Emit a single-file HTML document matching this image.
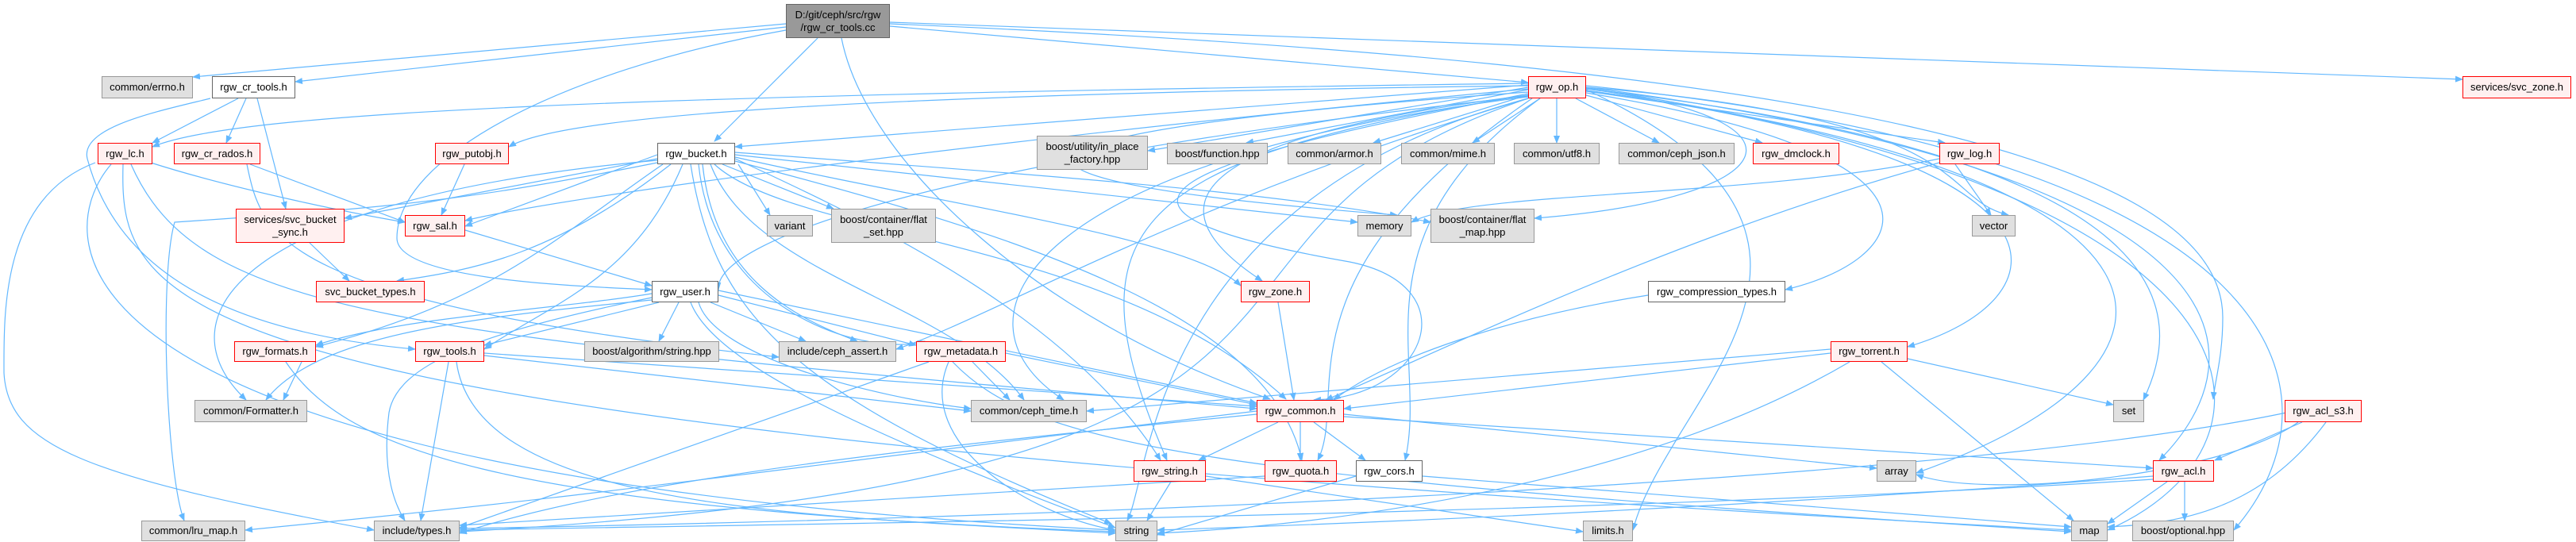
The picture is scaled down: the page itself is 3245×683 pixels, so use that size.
<!DOCTYPE html>
<html><head><meta charset="utf-8"><style>
body{margin:0;width:3245px;height:683px;background:#fff;position:relative;overflow:hidden;font-family:"Liberation Sans",sans-serif}
.n{position:absolute;box-sizing:border-box;font-size:13px;color:#000;display:flex;align-items:center;justify-content:center;text-align:center;line-height:16px;white-space:nowrap}
.g{background:#e0e0e0;border:1px solid #999}
.r{background:#fff0f0;border:1px solid #f00}
.w{background:#fff;border:1px solid #666}
.t{background:#999;border:1px solid #666}
svg{position:absolute;left:0;top:0}
</style></head><body>
<svg width="3245" height="683" viewBox="0 0 3245 683">
<defs><marker id="a" markerWidth="10" markerHeight="8" refX="9" refY="4" orient="auto" markerUnits="userSpaceOnUse"><path d="M0,0 L10,4 L0,8 z" fill="#63b8ff"/></marker></defs>
<g fill="none" stroke="#63b8ff" stroke-width="1.2" marker-end="url(#a)">
<path d="M990,30 L243,97"/>
<path d="M990,34 L372,103"/>
<path d="M1030,48 L900,178"/>
<path d="M1121,33 L1925,104"/>
<path d="M1121,28 L3102,100"/>
<path d="M990,38 C700,90 500,200 500,300 C500,350 700,360 821,365"/>
<path d="M1060,48 C1090,200 1300,400 1600,503"/>
<path d="M1121,30 C2300,80 2800,200 2800,400 C2800,450 2790,480 2788,503"/>
<path d="M300,124 L192,180"/>
<path d="M310,124 L285,180"/>
<path d="M324,124 L360,263"/>
<path d="M265,124 C200,140 100,160 110,200 C150,350 300,420 523,440"/>
<path d="M190,205 C300,240 450,270 510,280"/>
<path d="M120,205 C0,250 5,400 5,470 C10,560 100,600 471,668"/>
<path d="M140,207 C60,300 40,600 1405,668"/>
<path d="M155,207 C150,400 200,540 2609,668"/>
<path d="M165,207 C250,400 500,420 1583,515"/>
<path d="M311,207 C330,300 350,380 981,450"/>
<path d="M315,207 L510,280"/>
<path d="M585,207 L556,271"/>
<path d="M828,195 L586,285"/>
<path d="M828,200 L434,275"/>
<path d="M845,207 C700,320 600,340 500,354"/>
<path d="M930,207 L970,271"/>
<path d="M910,207 L1050,263"/>
<path d="M835,207 C700,300 620,380 398,437"/>
<path d="M860,207 C800,350 700,380 610,440"/>
<path d="M828,205 C600,250 520,260 220,280 C200,350 210,600 232,656"/>
<path d="M828,202 C300,250 200,400 310,504"/>
<path d="M880,207 C900,400 1100,450 1165,430"/>
<path d="M885,207 C900,350 1000,400 1080,430"/>
<path d="M895,207 C950,350 1200,380 1290,504"/>
<path d="M900,207 C1000,300 1400,300 1620,503"/>
<path d="M926,195 L1710,280"/>
<path d="M926,192 C1300,220 1600,240 1802,280"/>
<path d="M870,207 C900,400 1000,500 1400,660"/>
<path d="M926,200 C1100,280 1350,400 1462,580"/>
<path d="M926,198 C1200,260 1500,300 1563,360"/>
<path d="M926,203 C1300,300 1600,400 1640,580"/>
<path d="M586,290 L821,360"/>
<path d="M390,306 L440,354"/>
<path d="M821,370 C700,390 500,400 398,435"/>
<path d="M830,381 L610,435"/>
<path d="M855,381 L830,430"/>
<path d="M895,381 L1015,430"/>
<path d="M905,372 L1154,435"/>
<path d="M905,366 L1583,508"/>
<path d="M821,378 C600,400 400,420 335,504"/>
<path d="M821,375 C600,420 500,460 490,520 C480,600 500,640 510,656"/>
<path d="M870,381 C900,460 1100,550 1405,665"/>
<path d="M880,381 C900,450 1100,500 1223,515"/>
<path d="M380,456 L357,504"/>
<path d="M360,456 C430,560 600,640 1405,670"/>
<path d="M565,456 L530,656"/>
<path d="M575,456 C600,640 1000,650 1405,672"/>
<path d="M610,445 L1583,512"/>
<path d="M610,448 L1223,518"/>
<path d="M1225,456 L1272,504"/>
<path d="M1267,445 L1583,510"/>
<path d="M1195,456 C1150,560 1300,650 1405,668"/>
<path d="M1170,456 L579,665"/>
<path d="M1200,456 C1300,560 1500,600 2609,670"/>
<path d="M1925,110 L1446,190"/>
<path d="M1925,113 L1570,180"/>
<path d="M1930,118 L1730,180"/>
<path d="M1940,124 L1855,180"/>
<path d="M1961,124 L1961,180"/>
<path d="M1985,124 L2090,180"/>
<path d="M1998,120 L2220,180"/>
<path d="M1998,115 L2450,180"/>
<path d="M1925,107 L926,185"/>
<path d="M1925,108 C1000,120 700,150 641,185"/>
<path d="M1925,105 C800,120 300,140 192,185"/>
<path d="M1925,112 C1200,180 700,250 586,278"/>
<path d="M1925,116 C1300,160 1100,220 1760,271"/>
<path d="M1998,112 C2300,150 2250,250 1933,275"/>
<path d="M1998,110 C2500,150 2440,250 2530,271"/>
<path d="M1925,120 C1600,160 1400,230 1590,354"/>
<path d="M1998,117 C2500,200 2400,330 2249,365"/>
<path d="M1998,114 C2650,200 2600,380 2403,437"/>
<path d="M1998,112 C2770,200 2750,400 2700,504"/>
<path d="M1998,114 C2800,220 2800,460 2414,596"/>
<path d="M1998,110 C2850,220 2850,450 2720,580"/>
<path d="M1998,108 C2900,200 2960,500 2814,668"/>
<path d="M1998,111 C2880,240 2900,560 2655,668"/>
<path d="M1925,118 C1500,200 1300,260 1700,330 C1850,360 1800,500 1655,504"/>
<path d="M1925,122 C1300,200 1180,400 1340,504"/>
<path d="M1925,124 C1450,250 1450,600 1420,656"/>
<path d="M1925,120 C1400,200 1350,300 1470,580"/>
<path d="M1930,124 C1600,350 1700,500 1660,580"/>
<path d="M1940,124 C1700,300 1800,450 1770,580"/>
<path d="M1925,124 C1500,250 1250,400 1129,440"/>
<path d="M1925,121 C1200,200 900,300 905,365"/>
<path d="M1998,113 C2400,300 2100,500 2057,668"/>
<path d="M1925,124 C1400,300 1850,600 579,670"/>
<path d="M2463,207 L2508,271"/>
<path d="M2443,200 C2200,250 1850,240 1778,280"/>
<path d="M2443,205 C2100,300 1800,450 1670,504"/>
<path d="M1610,381 L1630,504"/>
<path d="M2076,372 C1900,400 1750,450 1680,504"/>
<path d="M2306,445 L1693,515"/>
<path d="M2306,440 L1369,518"/>
<path d="M2403,452 L2662,510"/>
<path d="M2370,456 L2612,656"/>
<path d="M2330,456 C2000,650 1500,670 1458,672"/>
<path d="M1610,532 L1510,580"/>
<path d="M1638,532 L1638,580"/>
<path d="M1655,532 L1720,580"/>
<path d="M1693,522 L2364,590"/>
<path d="M1693,525 L2712,590"/>
<path d="M1475,607 L1445,656"/>
<path d="M1519,600 L1994,670"/>
<path d="M1593,600 L579,662"/>
<path d="M1708,600 L1458,674"/>
<path d="M1792,600 L2609,664"/>
<path d="M2900,532 L2790,580"/>
<path d="M2880,520 C2500,600 1500,650 579,666"/>
<path d="M2930,532 C2850,640 2750,660 2655,664"/>
<path d="M2895,532 C2800,600 2500,630 2414,598"/>
<path d="M2730,607 L2655,660"/>
<path d="M2752,607 L2752,656"/>
<path d="M2712,600 C2200,640 1700,660 1458,668"/>
<path d="M2712,604 C2000,650 1000,660 579,668"/>
<path d="M1583,522 C1200,560 800,600 579,672"/>
<path d="M1583,518 C900,600 800,620 309,668"/>
</g></svg>
<div class="n t" style="left:990px;top:5px;width:131px;height:43px">D:/git/ceph/src/rgw<br>/rgw_cr_tools.cc</div>
<div class="n g" style="left:128px;top:96px;width:115px;height:28px">common/errno.h</div>
<div class="n w" style="left:267px;top:96px;width:105px;height:28px">rgw_cr_tools.h</div>
<div class="n r" style="left:123px;top:180px;width:69px;height:27px">rgw_lc.h</div>
<div class="n r" style="left:219px;top:180px;width:109px;height:27px">rgw_cr_rados.h</div>
<div class="n r" style="left:548px;top:180px;width:93px;height:27px">rgw_putobj.h</div>
<div class="n w" style="left:828px;top:180px;width:98px;height:27px">rgw_bucket.h</div>
<div class="n r" style="left:297px;top:263px;width:137px;height:43px">services/svc_bucket<br>_sync.h</div>
<div class="n r" style="left:510px;top:271px;width:76px;height:27px">rgw_sal.h</div>
<div class="n g" style="left:966px;top:271px;width:58px;height:27px">variant</div>
<div class="n g" style="left:1047px;top:263px;width:132px;height:43px">boost/container/flat<br>_set.hpp</div>
<div class="n r" style="left:398px;top:354px;width:137px;height:27px">svc_bucket_types.h</div>
<div class="n w" style="left:821px;top:354px;width:84px;height:27px">rgw_user.h</div>
<div class="n r" style="left:295px;top:430px;width:103px;height:26px">rgw_formats.h</div>
<div class="n r" style="left:523px;top:430px;width:87px;height:26px">rgw_tools.h</div>
<div class="n g" style="left:736px;top:430px;width:170px;height:26px">boost/algorithm/string.hpp</div>
<div class="n g" style="left:981px;top:430px;width:148px;height:26px">include/ceph_assert.h</div>
<div class="n g" style="left:245px;top:504px;width:142px;height:28px">common/Formatter.h</div>
<div class="n g" style="left:178px;top:656px;width:131px;height:26px">common/lru_map.h</div>
<div class="n g" style="left:471px;top:656px;width:108px;height:26px">include/types.h</div>
<div class="n r" style="left:1925px;top:96px;width:73px;height:28px">rgw_op.h</div>
<div class="n g" style="left:1306px;top:171px;width:140px;height:43px">boost/utility/in_place<br>_factory.hpp</div>
<div class="n g" style="left:1470px;top:180px;width:127px;height:27px">boost/function.hpp</div>
<div class="n g" style="left:1622px;top:180px;width:118px;height:27px">common/armor.h</div>
<div class="n g" style="left:1765px;top:180px;width:118px;height:27px">common/mime.h</div>
<div class="n g" style="left:1907px;top:180px;width:108px;height:27px">common/utf8.h</div>
<div class="n g" style="left:2039px;top:180px;width:146px;height:27px">common/ceph_json.h</div>
<div class="n r" style="left:2208px;top:180px;width:109px;height:27px">rgw_dmclock.h</div>
<div class="n r" style="left:2443px;top:180px;width:76px;height:27px">rgw_log.h</div>
<div class="n g" style="left:1710px;top:271px;width:68px;height:27px">memory</div>
<div class="n g" style="left:1802px;top:263px;width:131px;height:43px">boost/container/flat<br>_map.hpp</div>
<div class="n g" style="left:2484px;top:271px;width:55px;height:27px">vector</div>
<div class="n r" style="left:1563px;top:354px;width:87px;height:27px">rgw_zone.h</div>
<div class="n w" style="left:2076px;top:354px;width:173px;height:27px">rgw_compression_types.h</div>
<div class="n r" style="left:1154px;top:430px;width:113px;height:26px">rgw_metadata.h</div>
<div class="n r" style="left:2306px;top:430px;width:97px;height:26px">rgw_torrent.h</div>
<div class="n g" style="left:1223px;top:504px;width:146px;height:28px">common/ceph_time.h</div>
<div class="n r" style="left:1583px;top:504px;width:110px;height:28px">rgw_common.h</div>
<div class="n g" style="left:2662px;top:504px;width:39px;height:28px">set</div>
<div class="n r" style="left:2878px;top:504px;width:97px;height:28px">rgw_acl_s3.h</div>
<div class="n r" style="left:1428px;top:580px;width:91px;height:27px">rgw_string.h</div>
<div class="n r" style="left:1593px;top:580px;width:91px;height:27px">rgw_quota.h</div>
<div class="n w" style="left:1708px;top:580px;width:84px;height:27px">rgw_cors.h</div>
<div class="n g" style="left:2364px;top:580px;width:50px;height:27px">array</div>
<div class="n r" style="left:2712px;top:580px;width:77px;height:27px">rgw_acl.h</div>
<div class="n g" style="left:1405px;top:656px;width:53px;height:26px">string</div>
<div class="n g" style="left:1994px;top:656px;width:63px;height:26px">limits.h</div>
<div class="n g" style="left:2609px;top:656px;width:46px;height:26px">map</div>
<div class="n g" style="left:2686px;top:656px;width:128px;height:26px">boost/optional.hpp</div>
<div class="n r" style="left:3102px;top:96px;width:137px;height:28px">services/svc_zone.h</div>
</body></html>
